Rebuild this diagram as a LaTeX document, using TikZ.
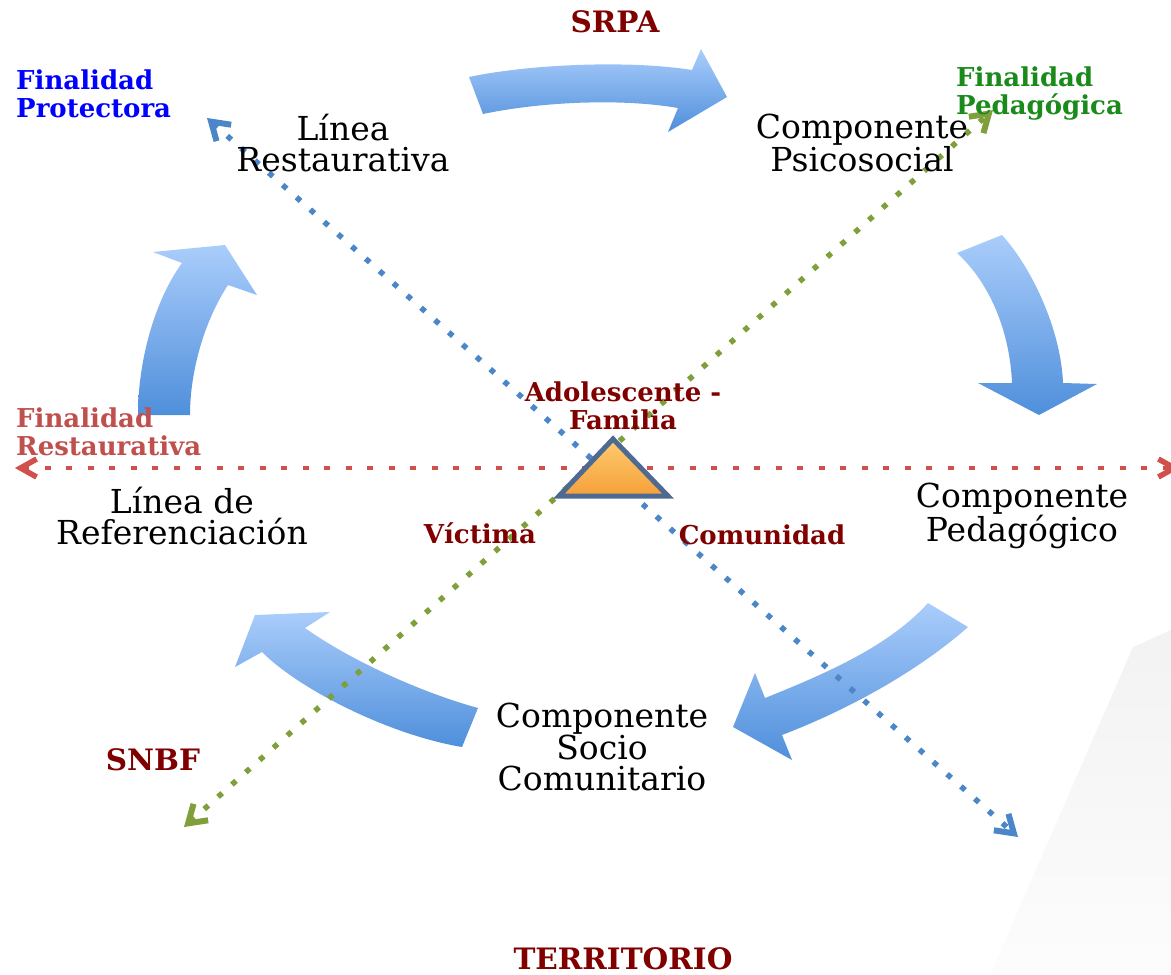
\documentclass[tikz,border=0pt]{standalone}
\usepackage{fontspec}
\setmainfont{DejaVu Serif}
\usetikzlibrary{arrows.meta}
\definecolor{arrtop}{HTML}{AACDFB}
\definecolor{arrbot}{HTML}{4F8FDB}
\definecolor{dred}{HTML}{800000}
\definecolor{lblue}{HTML}{4A86C8}
\definecolor{lgreen}{HTML}{7F9F3A}
\definecolor{lred}{HTML}{D0504C}
\definecolor{fred}{HTML}{C0504D}
\definecolor{fgreen}{HTML}{1A8A1A}
\definecolor{triedge}{HTML}{4F6A92}
\definecolor{tritop}{HTML}{FFCB6E}
\definecolor{tribot}{HTML}{F5A03A}
\tikzset{
  blockarrow/.style={top color=arrtop, bottom color=arrbot, draw=none},
  maintext/.style={font=\fontsize{33}{31.5}\selectfont, align=center, inner sep=0pt},
  boldlbl/.style={font=\bfseries\fontsize{26}{28}\selectfont, inner sep=0pt},
  biglbl/.style={font=\bfseries\fontsize{29.5}{30}\selectfont, inner sep=0pt, text=dred},
  diagblue/.style={draw=lblue, line width=5.5pt, dash pattern=on 5.5pt off 13pt,
     >={Straight Barb[length=17pt,width=22pt,line width=6pt]}, <->},
  diaggreen/.style={draw=lgreen, line width=5.5pt, dash pattern=on 5.5pt off 13pt,
     >={Straight Barb[length=17pt,width=22pt,line width=6pt]}, <->},
  horizred/.style={draw=lred, line width=4.5pt, dash pattern=on 6pt off 15.5pt,
     >={Straight Barb[length=16pt,width=18pt,line width=5.5pt]}, <->}
}
\begin{document}
\begin{tikzpicture}[x=1pt,y=-1pt]
\useasboundingbox (0,0) rectangle (1171,975);
% faint sheet
\path[top color=black!5, bottom color=black!1] (1133,647) -- (1171,630) -- (1171,975) -- (990,975) -- cycle;

% block arrows
\path[blockarrow] (469,77) .. controls (530,64) and (630,60) .. (692,70) -- (701,49) -- (727,97) -- (668,132) -- (678,108) .. controls (620,98) and (540,102) .. (483,114) -- cycle;
\path[blockarrow] (957,253) -- (1002,235) .. controls (1032,268) and (1061,330) .. (1063,383) -- (1097,384) -- (1039,415) -- (978,383) -- (1012,383) .. controls (1010,335) and (992,285) .. (957,253) -- cycle;
\path[blockarrow] (928,603) -- (968,627) .. controls (925,665) and (860,705) .. (782,735) -- (792,760) -- (733,727) -- (755,673) -- (765,698) .. controls (830,672) and (890,645) .. (928,603) -- cycle;
\path[blockarrow] (478,708) .. controls (420,692) and (350,660) .. (305,628) -- (330,612) -- (255,615) -- (235,667) -- (262,652) .. controls (300,690) and (390,735) .. (462,747) -- cycle;
\path[blockarrow] (138,415) .. controls (138,360) and (155,300) .. (182,263) -- (153,252) -- (225,245) -- (257,295) -- (228,285) .. controls (205,320) and (190,370) .. (190,415) -- cycle;

% dotted axes
\coordinate (bA) at (207,118);
\coordinate (bB) at (1018,837);
\coordinate (gA) at (184,827);
\coordinate (gB) at (993,110);
\coordinate (rA) at (15,468);
\coordinate (rB) at (1180,468);
\draw[diagblue] (bA) -- (bB);
\draw[diaggreen] (gA) -- (gB);
\draw[horizred] (rA) -- (rB);

% triangle
\coordinate (tap) at (613,439);
\coordinate (tbl) at (559,496);
\coordinate (tbr) at (668,496);
\path[draw=triedge, line width=5pt, line join=miter, top color=tritop, bottom color=tribot] (tap) -- (tbr) -- (tbl) -- cycle;

% main texts
\node[maintext] (linrest) at (343,143) {Línea\\Restaurativa};
\node[maintext] (psico) at (862,143) {Componente\\Psicosocial};
\node[maintext] (peda) at (1022,516) {Componente\\Pedagógico};
\node[maintext] (socio) at (602,747) {Componente\\Socio\\Comunitario};
\node[maintext] (linref) at (182,516) {Línea de\\Referenciación};

% labels
\node[boldlbl, text=dred, align=center] (adol) at (623,406) {Adolescente -\\Familia};
\node[boldlbl, text=dred] (vict) at (480,533) {Víctima};
\node[boldlbl, text=dred] (comu) at (762,535) {Comunidad};
\node[biglbl] (srpa) at (615,22) {SRPA};
\node[biglbl] (snbf) at (153,760) {SNBF};
\node[biglbl] (terr) at (623,959) {TERRITORIO};
\node[boldlbl, text=blue, align=left, anchor=west] (fprot) at (16,94) {Finalidad\\Protectora};
\node[boldlbl, text=fgreen, align=left, anchor=west] (fped) at (956,94) {Finalidad\\Pedagógica};
\node[boldlbl, text=fred, align=left, anchor=west] (frest) at (16,432) {Finalidad\\Restaurativa};
\end{tikzpicture}
\end{document}
